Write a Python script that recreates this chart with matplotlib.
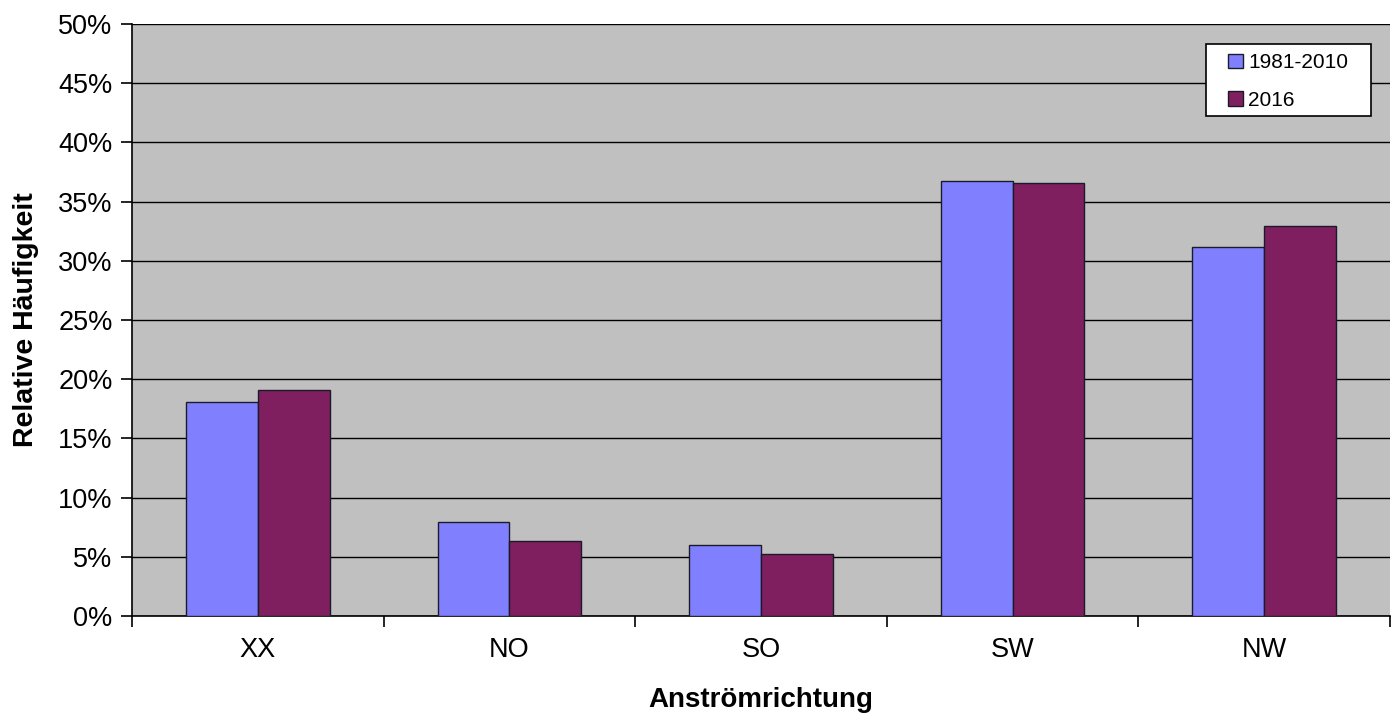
import matplotlib
matplotlib.use("Agg")
import matplotlib.pyplot as plt
import numpy as np
from matplotlib.patches import Rectangle
from matplotlib.ticker import FuncFormatter, MultipleLocator

plt.rcParams["font.family"] = ["Liberation Sans", "DejaVu Sans"]

categories = ["XX", "NO", "SO", "SW", "NW"]
series_names = ["1981-2010", "2016"]
values_1981_2010 = [18.1, 7.9, 6.0, 36.7, 31.2]
values_2016 = [19.1, 6.3, 5.2, 36.6, 32.9]
colors = ["#8080FF", "#7F1F5F"]


def main() -> None:
    fig = plt.figure(figsize=(13.98, 7.16), dpi=100)
    ax = fig.add_axes([132 / 1398, 1 - 616 / 716, (1390 - 132) / 1398, (616 - 24) / 716])
    ax.set_facecolor("#C0C0C0")

    x = np.arange(len(categories))
    width = 0.285
    for i, (vals, name) in enumerate(zip([values_1981_2010, values_2016], series_names)):
        ax.bar(x + (i - 0.5) * width, vals, width, color=colors[i], edgecolor="#1a1a2a",
               linewidth=1.0, label=name, zorder=3)

    ax.set_xlim(-0.5, len(categories) - 0.5)
    ax.set_ylim(0, 50)
    ax.yaxis.set_major_locator(MultipleLocator(5))
    ax.yaxis.set_major_formatter(FuncFormatter(lambda v, _: f"{v:.0f}%"))
    ax.grid(axis="y", color="black", linewidth=1.0, zorder=1)
    ax.set_axisbelow(True)

    ax.set_xticks(np.arange(len(categories) + 1) - 0.5)
    ax.set_xticklabels([])
    ax.set_xticks(x, minor=True)
    ax.set_xticklabels(categories, minor=True)
    ax.tick_params(axis="x", which="minor", length=0, pad=15, labelsize=19.5)
    ax.tick_params(axis="x", which="major", length=8, width=1.2, direction="out")
    ax.tick_params(axis="y", length=8, width=1.2, direction="out", labelsize=19.5, pad=6)

    for side in ["top", "right"]:
        ax.spines[side].set_visible(False)
    ax.spines["left"].set_linewidth(1.2)
    ax.spines["bottom"].set_linewidth(1.2)

    fig.text((132 + 1390) / 2 / 1398, 1 - 700 / 716, "Anströmrichtung", fontsize=20,
             fontweight="bold", ha="center", va="center")
    ax.set_ylabel("Relative Häufigkeit", fontsize=20.5, fontweight="bold", labelpad=14)

    # legend box drawn separately so the padding matches the original
    fig.patches.append(Rectangle((1206 / 1398, 1 - 116 / 716), 165 / 1398, 72 / 716,
                                 transform=fig.transFigure, facecolor="white",
                                 edgecolor="black", linewidth=1.2, zorder=4))
    fig.legend(loc="upper left", bbox_to_anchor=(1224 / 1398, 1 - 49 / 716),
               fontsize=15, frameon=False,
               handlelength=0.7, handleheight=0.7, handletextpad=0.25,
               borderpad=0.2, labelspacing=0.9, borderaxespad=0)

    fig.savefig("out.png", dpi=100)


if __name__ == "__main__":
    main()
